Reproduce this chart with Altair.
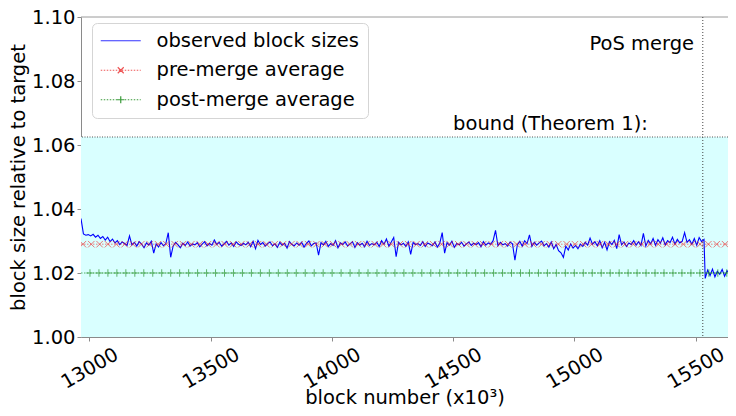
import altair as alt
import pandas as pd

FONT = "DejaVu Sans"
FS = 19.5

# ---------------- data ----------------
# observed block sizes (relative to target), block numbers in thousands
pre_x_start = 12965   # first sampled block (x10^3)
pre_x_step = 10
observed_pre = [
    1.0370, 1.0322, 1.0318, 1.0320, 1.0316, 1.0321, 1.0312, 1.0318, 1.0308, 1.0314,
    1.0303, 1.0312, 1.0298, 1.0306, 1.0294, 1.0301, 1.0289, 1.0297, 1.0292, 1.0286,
    1.0316, 1.0288, 1.0296, 1.0284, 1.0298, 1.0290, 1.0279, 1.0294, 1.0287, 1.0299,
    1.0262, 1.0291, 1.0281, 1.0295, 1.0285, 1.0292, 1.0326, 1.0249, 1.0284, 1.0296,
    1.0288, 1.0279, 1.0293, 1.0286, 1.0297, 1.0284, 1.0291, 1.0288, 1.0295, 1.0282,
    1.0290, 1.0298, 1.0285, 1.0292, 1.0287, 1.0303, 1.0289, 1.0296, 1.0284, 1.0291,
    1.0299, 1.0287, 1.0294, 1.0283, 1.0297, 1.0290, 1.0286, 1.0293, 1.0288, 1.0296,
    1.0282, 1.0299, 1.0276, 1.0302, 1.0289, 1.0295, 1.0284, 1.0292, 1.0297, 1.0285,
    1.0291, 1.0280, 1.0296, 1.0287, 1.0293, 1.0278, 1.0298, 1.0289, 1.0285, 1.0294,
    1.0287, 1.0296, 1.0281, 1.0293, 1.0300, 1.0285, 1.0292, 1.0294, 1.0256, 1.0295,
    1.0288, 1.0299, 1.0283, 1.0292, 1.0286, 1.0301, 1.0279, 1.0294, 1.0289, 1.0297,
    1.0284, 1.0291, 1.0298, 1.0280, 1.0295, 1.0287, 1.0293, 1.0282, 1.0299, 1.0286,
    1.0292, 1.0288, 1.0296, 1.0283, 1.0301, 1.0290, 1.0306, 1.0284, 1.0297, 1.0311,
    1.0251, 1.0296, 1.0288, 1.0293, 1.0283, 1.0297, 1.0258, 1.0295, 1.0289, 1.0292,
    1.0286, 1.0298, 1.0283, 1.0294, 1.0290, 1.0285, 1.0297, 1.0281, 1.0293, 1.0326,
    1.0262, 1.0295, 1.0287, 1.0299, 1.0280, 1.0292, 1.0288, 1.0296, 1.0284, 1.0291,
    1.0297, 1.0286, 1.0293, 1.0289, 1.0295, 1.0282, 1.0298, 1.0287, 1.0294, 1.0290,
    1.0301, 1.0333, 1.0285, 1.0296, 1.0288, 1.0292, 1.0284, 1.0297, 1.0291, 1.0240,
    1.0288, 1.0299, 1.0284, 1.0301, 1.0292, 1.0319, 1.0283, 1.0296, 1.0287, 1.0294,
    1.0300, 1.0285, 1.0292, 1.0281, 1.0297, 1.0276, 1.0289, 1.0270, 1.0263, 1.0249,
    1.0284, 1.0272, 1.0291, 1.0278, 1.0286, 1.0276, 1.0290, 1.0283, 1.0296, 1.0287,
    1.0309, 1.0290, 1.0298, 1.0285, 1.0301, 1.0279, 1.0296, 1.0272, 1.0298, 1.0289,
    1.0302, 1.0276, 1.0320, 1.0288, 1.0297, 1.0283, 1.0294, 1.0289, 1.0301, 1.0287,
    1.0298, 1.0286, 1.0324, 1.0284, 1.0302, 1.0291, 1.0308, 1.0287, 1.0304, 1.0293,
    1.0310, 1.0288, 1.0301, 1.0295, 1.0312, 1.0290, 1.0305, 1.0294, 1.0299, 1.0326,
    1.0296, 1.0304, 1.0290, 1.0308, 1.0287, 1.0311, 1.0298, 1.0305,
]
post_x_start = 15540
post_x_step = 10
observed_post = [
    1.0183, 1.0209, 1.0192, 1.0212, 1.0188, 1.0205, 1.0196,
    1.0211, 1.0190, 1.0207, 1.0198, 1.0213, 1.0201,
]

pre_avg = 1.0290
post_avg = 1.0200
bound = 1.0625
merge_block = 15530
x_domain = [12965, 15634]
y_domain = [1.00, 1.10]
x_ticks = [13000, 13500, 14000, 14500, 15000, 15500]
y_ticks = [1.00, 1.02, 1.04, 1.06, 1.08, 1.10]
pre_marker_start, pre_marker_step = 12973, 34.4
post_marker_start, post_marker_step = 13002, 37.0
series_names = ["observed block sizes", "pre-merge average", "post-merge average"]
annotations = ["PoS merge", "bound (Theorem 1):"]

# ---------------- tables ----------------
obs = pd.DataFrame({
    "x": [pre_x_start + pre_x_step * i for i in range(len(observed_pre))]
         + [post_x_start + post_x_step * i for i in range(len(observed_post))],
    "y": observed_pre + observed_post,
})

def marker_positions(start, step):
    out = []
    v = start
    while v <= x_domain[1]:
        out.append(v)
        v += step
    return out

pre_mk = pd.DataFrame({"x": marker_positions(pre_marker_start, pre_marker_step)})
pre_mk["y"] = pre_avg
post_mk = pd.DataFrame({"x": marker_positions(post_marker_start, post_marker_step)})
post_mk["y"] = post_avg
pre_line = pd.DataFrame({"x": x_domain, "y": [pre_avg, pre_avg]})
post_line = pd.DataFrame({"x": x_domain, "y": [post_avg, post_avg]})
band_df = pd.DataFrame({"x0": [x_domain[0]], "x1": [x_domain[1]], "y0": [y_domain[0]], "y1": [bound]})

xs = alt.Scale(domain=x_domain, nice=False, zero=False)
ys = alt.Scale(domain=y_domain, nice=False, zero=False)
X_TITLE = "block number (x10³)"
Y_TITLE = "block size relative to target"
xaxis = alt.Axis(values=x_ticks, format="d", title=X_TITLE, labelAngle=330,
                 labelAlign="center", labelBaseline="middle", labelPadding=27,
                 tickSize=4, grid=False, titleY=66, titleBaseline="alphabetic")
yaxis = alt.Axis(values=y_ticks, format=".2f", title=Y_TITLE, tickSize=4,
                 labelPadding=2, grid=False, titlePadding=3)

def X(f):
    return alt.X(f, type="quantitative", scale=xs, axis=xaxis)

def Y(f):
    return alt.Y(f, type="quantitative", scale=ys, axis=yaxis)

band = alt.Chart(band_df).mark_rect(color="#d9ffff").encode(
    x=X("x0"), x2="x1", y=Y("y0"), y2="y1")

bound_rule = alt.Chart(pd.DataFrame({"y": [bound]})).mark_rule(
    color="#555555", strokeDash=[1, 1.5], strokeWidth=1).encode(y=Y("y"))
top_rule = alt.Chart(pd.DataFrame({"y": [y_domain[1]]})).mark_rule(
    color="#9a9a9a", strokeWidth=1).encode(y=Y("y"))
merge_rule = alt.Chart(pd.DataFrame({"x": [merge_block]})).mark_rule(
    color="#444444", strokeDash=[1, 2], strokeWidth=1).encode(x=X("x"))

obs_line = alt.Chart(obs).mark_line(color="#0000ff", strokeWidth=1.1, clip=True).encode(
    x=X("x"), y=Y("y"))

X_PATH = "M-1,-1L1,1M-1,1L1,-1"
P_PATH = "M-1,0L1,0M0,-1L0,1"

pre_l = alt.Chart(pre_line).mark_line(color="#ff0000", opacity=0.5, strokeDash=[1.5, 1.5],
                                      strokeWidth=1).encode(x=X("x"), y=Y("y"))
pre_p = alt.Chart(pre_mk).mark_point(shape=X_PATH, size=42, color="#ee2222", opacity=0.6,
                                     strokeWidth=1, clip=True).encode(x=X("x"), y=Y("y"))
post_l = alt.Chart(post_line).mark_line(color="#008000", opacity=0.6, strokeDash=[1.5, 1.5],
                                        strokeWidth=1).encode(x=X("x"), y=Y("y"))
post_p = alt.Chart(post_mk).mark_point(shape=P_PATH, size=56, color="#1a8a1a", opacity=0.65,
                                       strokeWidth=1, clip=True).encode(x=X("x"), y=Y("y"))

# legend symbols: line (dotted drawn as short dashes) + marker
def dotted(half=5.0, on=0.375, period=0.75):
    segs = []
    v = -half
    while v < half:
        segs.append(f"M{v:.3f},0L{min(v + on, half):.3f},0")
        v += period
    return "".join(segs)

leg_paths = [
    "M-5,0L5,0",
    dotted() + "M-0.75,-0.75L0.75,0.75M-0.75,0.75L0.75,-0.75",
    dotted() + "M-0.9,0L0.9,0M0,-0.9L0,0.9",
]
leg_colors = ["#3333ff", "#ee5555", "#3a9a3a"]
legend = alt.Legend(orient="none", legendX=11, legendY=6, title=None,
                    labelFont=FONT, labelFontSize=FS, labelColor="black", labelLimit=500,
                    symbolSize=64, symbolStrokeWidth=1.2, symbolOffset=11, labelOffset=26,
                    rowPadding=8.5, padding=8, fillColor="rgba(255,255,255,0.85)",
                    strokeColor="#d5d5d5", cornerRadius=5)
leg_df = pd.DataFrame({"lg": series_names})
leg_layer = alt.Chart(leg_df).mark_point(opacity=1, filled=False).encode(
    shape=alt.Shape("lg:N", scale=alt.Scale(domain=series_names, range=leg_paths), legend=legend),
    color=alt.Color("lg:N", scale=alt.Scale(domain=series_names, range=leg_colors), legend=legend),
).transform_filter("false")

txt_df = pd.DataFrame({"t": annotations, "x": [15494, 14500], "y": [1.0898, 1.0647]})
txt_pos = alt.Chart(txt_df.iloc[[0]]).mark_text(font=FONT, fontSize=FS, color="black",
                                               align="right", baseline="alphabetic").encode(
    x=X("x"), y=Y("y"), text="t:N")
txt_bound = alt.Chart(txt_df.iloc[[1]]).mark_text(font=FONT, fontSize=FS, color="black",
                                                 align="left", baseline="alphabetic").encode(
    x=X("x"), y=Y("y"), text="t:N")

chart = alt.layer(
    band, bound_rule, top_rule, merge_rule, obs_line, pre_l, pre_p, post_l, post_p,
    txt_pos, txt_bound, leg_layer,
).properties(
    width=647, height=320,
    padding={"left": 73, "top": 9, "right": 0, "bottom": 71},
    autosize=alt.AutoSizeParams(type="none"),
    background="white",
).configure_view(stroke=None).configure_axis(
    labelFont=FONT, labelFontSize=FS, labelColor="black",
    titleFont=FONT, titleFontSize=FS, titleColor="black", titleFontWeight="normal",
    domainColor="#8a8a8a", tickColor="#8a8a8a", domainWidth=1,
)

chart.save("out.html", embed_options={"renderer": "svg", "actions": False})
